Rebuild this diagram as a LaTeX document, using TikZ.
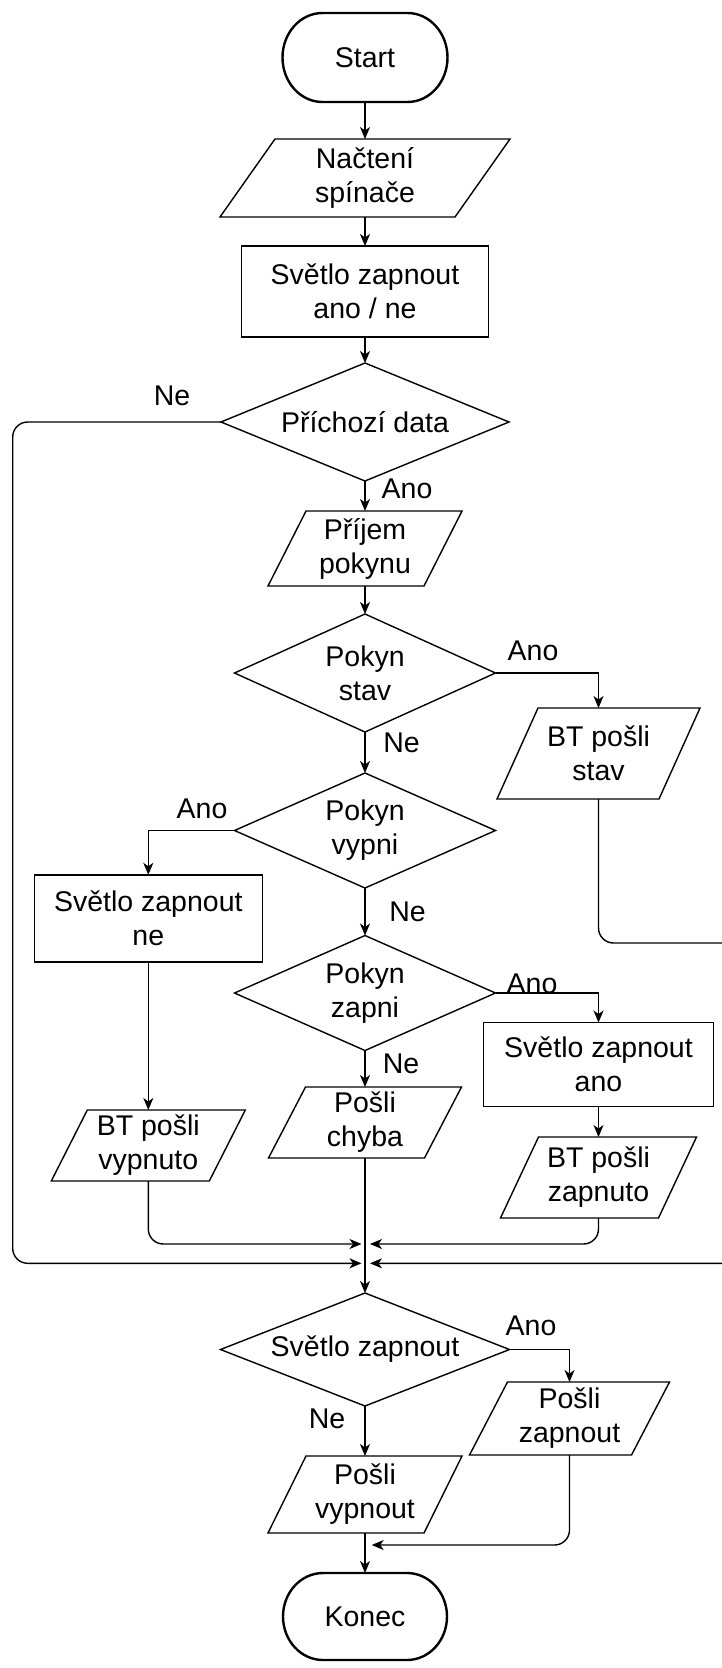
\documentclass[tikz,border=0pt]{standalone}
\usepackage{fontspec}
\setmainfont{Liberation Sans}
\usetikzlibrary{arrows.meta}

\newcommand\chartfont{\fontsize{28.5pt}{34pt}\selectfont}

\tikzset{
  wire/.style={line width=1.4pt, draw=black},
  arr/.style={wire, -{Stealth[length=12pt,width=10pt,inset=3.5pt]}},
  merge/.style={arr, rounded corners=15pt},
  boxtext/.style={inner sep=0pt, outer sep=0pt, align=center, font=\chartfont},
  lbl/.style={inner sep=0pt, outer sep=0pt, anchor=base, font=\chartfont},
}

% process box: name, x, y, width, height, text
\newcommand\procnode[6]{%
  \node[boxtext, draw, line width=1.4pt, minimum width=#4pt, minimum height=#5pt] (#1) at (#2,#3) {#6};}

% input/output parallelogram: name, x, y, edge width, height, slant, text
\newcommand\ionode[7]{%
  \node[boxtext, minimum width=#4pt, minimum height=#5pt] (#1) at (#2,#3) {#7};
  \draw[wire] ([xshift=-#4pt/2-#6pt/2]#1.south) -- ([xshift=#4pt/2-#6pt/2]#1.south)
    -- ([xshift=#4pt/2+#6pt/2]#1.north) -- ([xshift=-#4pt/2+#6pt/2]#1.north) -- cycle;}

% decision diamond: name, x, y, width, height, text
\newcommand\decnode[6]{%
  \node[boxtext, minimum width=#4pt, minimum height=#5pt] (#1) at (#2,#3) {#6};
  \draw[wire] (#1.north) -- (#1.east) -- (#1.south) -- (#1.west) -- cycle;}

% terminator: name, x, y, width, height, text
\newcommand\termnode[6]{%
  \node[boxtext, minimum width=#4pt, minimum height=#5pt] (#1) at (#2,#3) {#6};
  \draw[line width=2.4pt] ([xshift=40pt]#1.north west) -- ([xshift=-40pt]#1.north east)
    arc[start angle=90, end angle=-90, x radius=40pt, y radius=#5pt/2]
    -- ([xshift=40pt]#1.south west)
    arc[start angle=270, end angle=90, x radius=40pt, y radius=#5pt/2] -- cycle;}

\begin{document}
\begin{tikzpicture}[x=1pt, y=-1pt]
\path[use as bounding box, fill=white] (0,0) rectangle (721,1668);

% shapes
\termnode{start}{365}{57.5}{165}{89}{Start}
\ionode{read}{365}{178}{235}{78}{55}{Načtení\\spínače}
\procnode{light}{365}{291.5}{247}{91}{Světlo zapnout\\ano / ne}
\decnode{data}{365}{422}{288}{118}{Příchozí data}
\ionode{recv}{365}{548.5}{156}{75}{38}{Příjem\\pokynu}
\decnode{qstate}{365}{673}{261}{118}{Pokyn\\stav}
\ionode{sendstate}{598.5}{753.5}{162}{91}{41}{BT pošli\\stav}
\decnode{qoff}{365}{830.5}{261}{115}{Pokyn\\vypni}
\procnode{lightoff}{148.3}{918.3}{228}{87}{Světlo zapnout\\ne}
\decnode{qon}{365}{993}{261}{115}{Pokyn\\zapni}
\procnode{lighton}{598.5}{1064.5}{230}{84}{Světlo zapnout\\ano}
\ionode{sendoff}{148.3}{1145.5}{158}{71}{36}{BT pošli\\vypnuto}
\ionode{senderr}{365}{1122.5}{156}{71}{37}{Pošli\\chyba}
\ionode{sendon}{598.5}{1177.5}{158}{81}{38}{BT pošli\\zapnuto}
\decnode{qlight}{365}{1349.5}{289}{113}{Světlo zapnout}
\ionode{reporton}{569.5}{1418.5}{162}{73}{38}{Pošli\\zapnout}
\ionode{reportoff}{365}{1494.5}{156}{77}{38}{Pošli\\vypnout}
\termnode{stop}{365}{1616.5}{164}{87}{Konec}

% free ends of the merging connectors
\coordinate (inL1) at (361.5,1244);
\coordinate (inR1) at (370,1244);
\coordinate (inL2) at (361.5,1263.3);
\coordinate (inR2) at (370,1263.3);
\coordinate (loopL) at (12.7,1263.3);
\coordinate (loopR) at (740,943);
\coordinate (inEnd) at (371.7,1545);

% main flow
\draw[arr] (start.south) -- (read.north);
\draw[arr] (read.south) -- (light.north);
\draw[arr] (light.south) -- (data.north);
\draw[arr] (data.south) -- (recv.north);
\draw[arr] (recv.south) -- (qstate.north);
\draw[arr] (qstate.east) -| (sendstate.north);
\draw[arr] (qstate.south) -- (qoff.north);
\draw[arr] (qoff.west) -| (lightoff.north);
\draw[arr] (qoff.south) -- (qon.north);
\draw[arr] (qon.east) -| (lighton.north);
\draw[arr] (qon.south) -- (senderr.north);
\draw[arr] (lightoff.south) -- (sendoff.north);
\draw[arr] (lighton.south) -- (sendon.north);
\draw[arr] (senderr.south) -- (qlight.north);

% branches joining the main line
\draw[merge] (sendoff.south) |- (inL1);
\draw[merge] (sendon.south) |- (inR1);
\draw[merge] (data.west) -| (loopL) -- (inL2);
\draw[merge] (sendstate.south) |- (loopR) |- (inR2);

% final part
\draw[arr] (qlight.east) -| (reporton.north);
\draw[arr] (qlight.south) -- (reportoff.north);
\draw[merge] (reporton.south) |- (inEnd);
\draw[arr] (reportoff.south) -- (stop.north);

% branch labels
\node[lbl] (l1) at (172,405) {Ne};
\node[lbl] (l2) at (407,498) {Ano};
\node[lbl] (l3) at (533,660) {Ano};
\node[lbl] (l4) at (401.5,752) {Ne};
\node[lbl] (l5) at (202,818) {Ano};
\node[lbl] (l6) at (407.5,921.7) {Ne};
\node[lbl] (l7) at (532,993) {Ano};
\node[lbl] (l8) at (401,1073) {Ne};
\node[lbl] (l9) at (531,1335) {Ano};
\node[lbl] (l10) at (327,1428) {Ne};
\end{tikzpicture}
\end{document}
